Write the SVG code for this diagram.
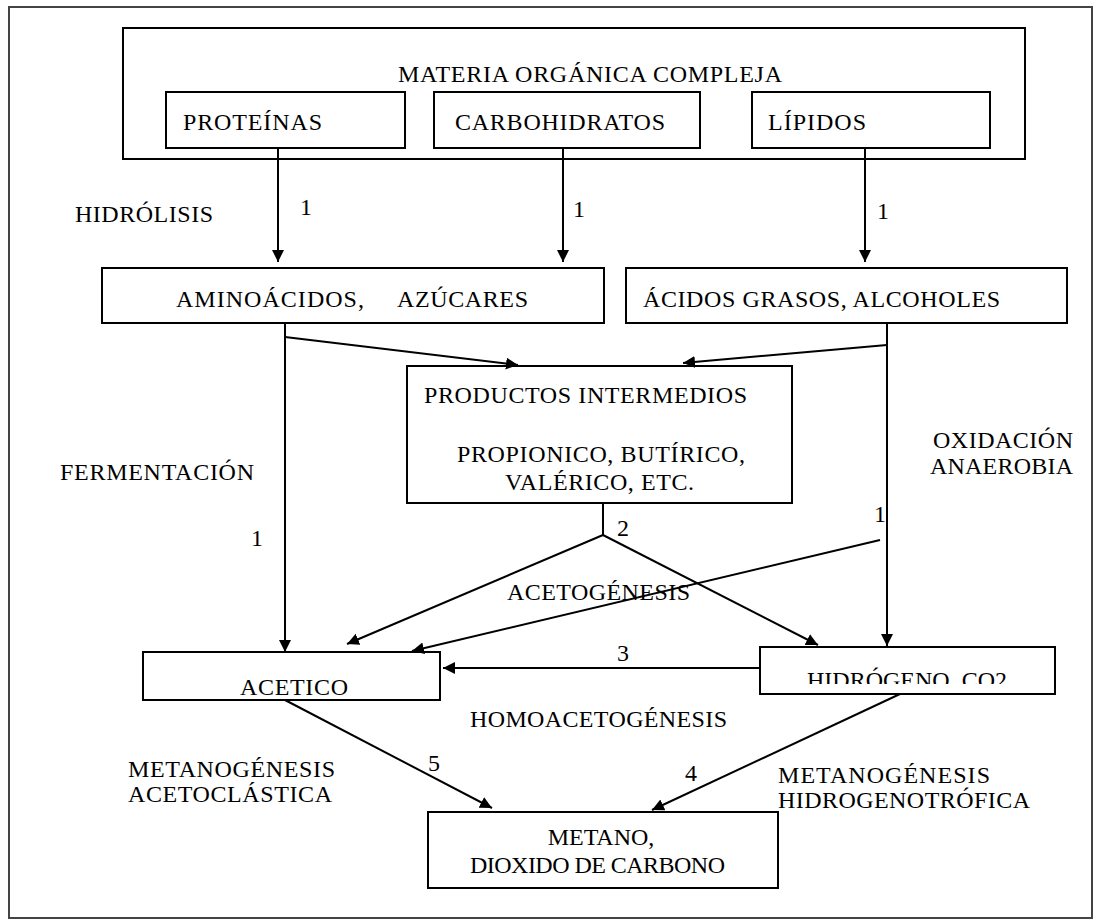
<svg xmlns="http://www.w3.org/2000/svg" width="1095" height="921" viewBox="0 0 1095 921">
<defs>
<style>
.box{fill:#fff;stroke:#000;stroke-width:2}
.t{font-family:"Liberation Serif","Times New Roman",serif;font-size:24px;fill:#000}
.c{text-anchor:middle}
.ln{fill:none;stroke:#000;stroke-width:2}
</style>
<marker id="ah" markerUnits="userSpaceOnUse" markerWidth="14" markerHeight="14" refX="12" refY="6" orient="auto">
<path d="M0,0 L12,6 L0,12 z" fill="#000"/>
</marker>
<clipPath id="hclip"><rect x="760" y="647" width="295" height="37"/></clipPath>
</defs>
<rect width="1095" height="921" fill="#fff"/>
<rect x="9" y="7" width="1083" height="911" fill="none" stroke="#444" stroke-width="2"/>

<g id="materia">
<rect class="box" x="123" y="28" width="902" height="131"/>
<text class="t" x="398" y="82" textLength="384">MATERIA ORGÁNICA COMPLEJA</text>
</g>
<g id="proteinas">
<rect class="box" x="166" y="92" width="239" height="56"/>
<text class="t" x="183" y="130" textLength="139">PROTEÍNAS</text>
</g>
<g id="carbohidratos">
<rect class="box" x="434" y="92" width="266" height="56"/>
<text class="t" x="455" y="130" textLength="210">CARBOHIDRATOS</text>
</g>
<g id="lipidos">
<rect class="box" x="752" y="92" width="238" height="56"/>
<text class="t" x="768" y="130" textLength="98">LÍPIDOS</text>
</g>

<g id="aminoacidos">
<rect class="box" x="102" y="268" width="502" height="55"/>
<text class="t" x="176" y="307" textLength="188">AMINOÁCIDOS,</text>
<text class="t" x="397" y="307" textLength="131">AZÚCARES</text>
</g>
<g id="acidos">
<rect class="box" x="626" y="268" width="441" height="55"/>
<text class="t" x="643" y="307" textLength="357">ÁCIDOS GRASOS, ALCOHOLES</text>
</g>

<g id="productos">
<rect class="box" x="407" y="366" width="385" height="137"/>
<text class="t" x="424" y="403" textLength="323">PRODUCTOS INTERMEDIOS</text>
<text class="t" x="457" y="462" textLength="288">PROPIONICO, BUTÍRICO,</text>
<text class="t" x="505" y="490" textLength="189">VALÉRICO, ETC.</text>
</g>

<g id="acetico">
<rect class="box" x="143" y="652" width="297" height="48"/>
<text class="t" x="240" y="695" textLength="108">ACETICO</text>
</g>
<g id="hidrogeno">
<rect class="box" x="760" y="647" width="295" height="47"/>
<text class="t" x="807" y="688" textLength="200" clip-path="url(#hclip)">HIDRÓGENO, CO2</text>
</g>
<g id="metano">
<rect class="box" x="428" y="812" width="350" height="76"/>
<text class="t c" x="601" y="845">METANO,</text>
<text class="t" x="470" y="873" textLength="255">DIOXIDO DE CARBONO</text>
</g>

<g id="connectors">
<path class="ln" d="M278,148 V262" marker-end="url(#ah)"/>
<path class="ln" d="M563,148 V262" marker-end="url(#ah)"/>
<path class="ln" d="M865,148 V262" marker-end="url(#ah)"/>
<path class="ln" d="M285,323 V652" marker-end="url(#ah)"/>
<path class="ln" d="M285,337 L518,365" marker-end="url(#ah)"/>
<path class="ln" d="M887,323 V646" marker-end="url(#ah)"/>
<path class="ln" d="M887,345 L683,363" marker-end="url(#ah)"/>
<path class="ln" d="M603,503 V535"/>
<path class="ln" d="M603,535 L347,644" marker-end="url(#ah)"/>
<path class="ln" d="M603,535 L818,645" marker-end="url(#ah)"/>
<path class="ln" d="M880,540 L412,651" marker-end="url(#ah)"/>
<path class="ln" d="M760,668 L443,668" marker-end="url(#ah)"/>
<path class="ln" d="M285,700 L492,808" marker-end="url(#ah)"/>
<path class="ln" d="M900,694 L652,810" marker-end="url(#ah)"/>
</g>

<g id="labels">
<text class="t" x="75" y="222" textLength="138">HIDRÓLISIS</text>
<text class="t" x="300" y="215">1</text>
<text class="t" x="573" y="217">1</text>
<text class="t" x="877" y="219">1</text>
<text class="t" x="60" y="480" textLength="194">FERMENTACIÓN</text>
<text class="t" x="251" y="546">1</text>
<text class="t" x="933" y="448" textLength="140">OXIDACIÓN</text>
<text class="t" x="930" y="474" textLength="143">ANAEROBIA</text>
<text class="t" x="874" y="522">1</text>
<text class="t" x="617" y="536">2</text>
<text class="t" x="507" y="600" textLength="183">ACETOGÉNESIS</text>
<text class="t" x="617" y="661">3</text>
<text class="t" x="470" y="727" textLength="257">HOMOACETOGÉNESIS</text>
<text class="t" x="128" y="777" textLength="207">METANOGÉNESIS</text>
<text class="t" x="128" y="802" textLength="204">ACETOCLÁSTICA</text>
<text class="t" x="428" y="771">5</text>
<text class="t" x="685" y="781">4</text>
<text class="t" x="778" y="783" textLength="212">METANOGÉNESIS</text>
<text class="t" x="778" y="808" textLength="252">HIDROGENOTRÓFICA</text>
</g>
</svg>
